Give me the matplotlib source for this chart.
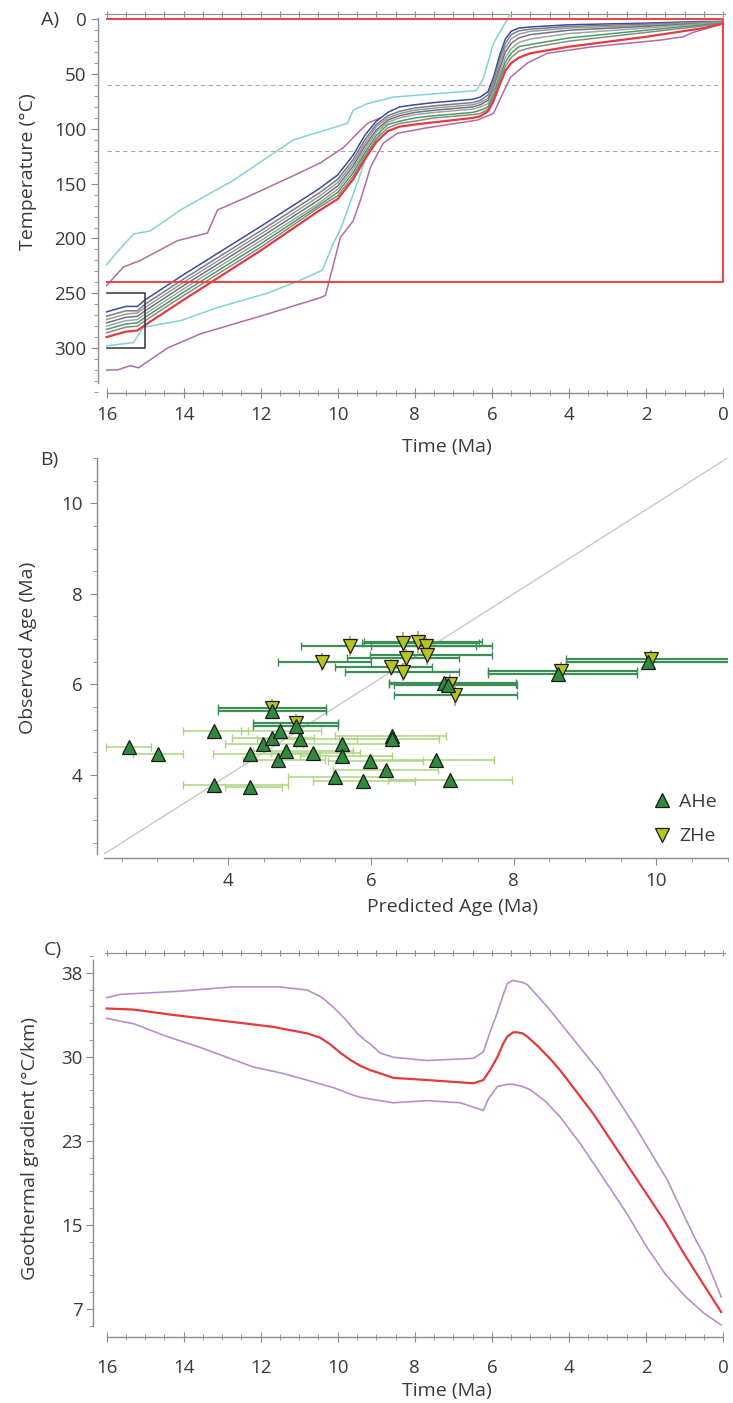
import matplotlib.pyplot as plt
import numpy as np
from matplotlib.ticker import MultipleLocator, FixedLocator
from matplotlib.lines import Line2D

plt.rcParams['font.family'] = ['Open Sans', 'DejaVu Sans']
plt.rcParams['font.size'] = 13.5

# ---------------- A) thermal histories ----------------
t_bundle = [16, 15.5, 15.2, 15, 14, 12, 10.5, 10, 9.6, 9.3, 9.0, 8.7, 8.4, 8.0, 7.5, 6.5, 6.3, 6.1, 5.95, 5.8, 5.65, 5.5, 5.3, 5.0, 4.0, 2.0, 0.5, 0]
T_blue = [267, 262, 262, 256, 233, 189, 155, 142, 124, 106, 93, 85, 80, 78, 76, 73, 71, 66, 52, 33, 18, 11, 8, 7, 5, 3.5, 2, 2]
T_gray1 = [271, 266, 266, 260, 237, 193, 159, 146, 128, 110, 96, 88, 84, 81, 79, 76, 74, 69, 56, 37, 22, 14, 10.5, 9, 6.5, 4.5, 2.5, 2]
T_gray2 = [274, 269, 268, 263, 240, 196, 162, 149, 131, 113, 98, 90, 86, 83, 81, 78, 76, 72, 59, 41, 26, 18, 13.5, 11, 8, 5.5, 3, 2.5]
T_gray3 = [277, 272, 271, 266, 243, 199, 165, 152, 134, 116, 101, 92, 88, 85, 83, 80, 78, 74, 62, 45, 30, 22, 17, 14, 10, 6.5, 3.5, 3]
T_gray4 = [280, 275, 274, 269, 246, 202, 168, 155, 137, 119, 103, 94, 90, 87, 85, 82, 80, 77, 65, 49, 35, 27, 21, 18, 13, 8, 4, 3]
T_green = [283, 278, 277, 272, 249, 205, 170, 158, 140, 122, 106, 96, 93, 90, 88, 85, 83, 80, 68, 53, 39, 31, 25, 23, 17, 10, 5, 3.5]
T_gray5 = [286, 281, 280, 275, 252, 208, 172, 161, 143, 125, 109, 99, 95, 93, 90, 87, 86, 82, 71, 56, 43, 35, 29, 26, 20, 12, 6, 4]
T_red = [290, 285, 284, 279, 256, 211, 175, 164, 146, 128, 112, 102, 98, 96, 94, 90, 88.5, 84, 74, 60, 47, 40, 35, 31, 25, 16, 8, 4]

cyan_up_t = [16, 15.64, 15.3, 14.86, 14.08, 12.71, 11.15, 9.75, 9.6, 9.23, 8.56, 6.4, 6.22, 5.96, 5.6, 5.4]
cyan_up_T = [224, 209, 196, 193, 174, 147, 110, 95, 83, 77, 71, 65, 54, 22, 0, -12]
mag_up_t = [16, 15.56, 15.12, 14.16, 13.38, 13.12, 12.34, 11.23, 10.45, 9.85, 9.49, 9.23, 8.9]
mag_up_T = [243, 226, 220, 202, 195, 174, 162, 144, 131, 117, 104, 95, 90]
cyan_lo_t = [16, 15.3, 15.04, 14.08, 13.12, 11.83, 10.97, 10.4, 10.11, 9.93, 9.41, 9.23, 8.9]
cyan_lo_T = [298, 295, 281, 275, 263, 250, 238, 229, 204, 192, 141, 122, 104]
mag_lo_t = [16, 15.72, 15.38, 15.17, 14.42, 13.56, 11.83, 10.45, 10.32, 9.93, 9.6, 9.41, 9.15, 8.82, 8.45, 7.68, 6.38, 5.96, 5.52, 5.08, 4.56, 3.37, 1.63, 1.04, 0.78, 0]
mag_lo_T = [320, 320, 316, 318, 300, 287, 269, 254, 252, 199, 184, 165, 135, 113, 104, 99, 92, 86, 53, 40, 31, 25, 19, 16, 12, 4]

constraint_t = [16, 0, 0, 16]       # red box outline (top, right, bottom)
constraint_T = [0, 0, 240, 240]
start_box_t = [16, 15]
start_box_T = [250, 300]
dashed_T = [60, 120]

# ---------------- B) observed vs predicted ----------------
ahe_pred = [2.60, 3.01, 3.80, 3.80, 4.30, 4.30, 4.49, 4.61, 4.72, 4.70, 4.81, 5.00, 5.19, 5.59, 5.59, 5.50, 5.89, 5.99, 6.29, 6.29, 6.21, 6.91, 7.10]
ahe_obs = [4.62, 4.46, 4.97, 3.78, 3.74, 4.46, 4.68, 4.81, 4.97, 4.33, 4.53, 4.79, 4.49, 4.68, 4.43, 3.96, 3.87, 4.31, 4.87, 4.80, 4.11, 4.33, 3.89]
ahe_lo = [2.28, 2.66, 3.36, 3.36, 3.95, 3.78, 3.95, 4.05, 4.18, 4.20, 4.35, 4.40, 4.60, 4.95, 5.00, 4.84, 5.19, 5.40, 5.50, 5.55, 5.47, 6.03, 6.24]
ahe_hi = [2.91, 3.36, 4.27, 4.83, 4.75, 5.29, 5.05, 5.20, 5.30, 5.35, 5.75, 5.80, 5.85, 6.30, 6.30, 6.28, 6.62, 6.73, 7.05, 6.95, 6.94, 7.73, 7.98]

ahe2_pred = [4.61, 4.94, 7.02, 7.08, 8.62, 9.88]
ahe2_obs = [5.41, 5.08, 6.04, 5.98, 6.24, 6.50]
ahe2_lo = [3.85, 4.35, 6.25, 6.32, 7.64, 8.73]
ahe2_hi = [5.37, 5.54, 8.03, 8.05, 9.73, 11.3]

zhe_pred = [5.71, 5.31, 6.45, 6.66, 6.77, 6.78, 6.49, 6.28, 6.45, 7.10, 7.17, 4.61, 4.94, 8.67, 9.93]
zhe_obs = [6.85, 6.49, 6.91, 6.94, 6.85, 6.65, 6.58, 6.38, 6.27, 6.02, 5.77, 5.48, 5.15, 6.29, 6.55]
zhe_lo = [5.02, 4.69, 5.87, 5.90, 6.00, 5.98, 5.66, 5.49, 5.64, 6.25, 6.32, 3.85, 4.35, 7.64, 8.73]
zhe_hi = [7.47, 6.00, 7.52, 7.55, 7.69, 7.70, 7.23, 6.85, 7.23, 8.03, 8.05, 5.37, 5.54, 9.73, 11.3]
zhe_obs_err = [0.22, 0.2, 0.25, 0.25, 0.2, 0.22, 0.2, 0.2, 0.2, 0.2, 0.25, 0.2, 0.2, 0.2, 0.2]

# ---------------- C) geothermal gradient ----------------
tc_red = [16, 15.3, 14.26, 12.71, 11.67, 10.79, 10.45, 10.2, 9.93, 9.65, 9.41, 9.15, 8.97, 8.56, 7.68, 6.48, 6.22, 6.05, 5.86, 5.7, 5.6, 5.45, 5.34, 5.2, 5.08, 4.8, 4.5, 4.23, 3.37, 2.23, 1.5, 1.0, 0.5, 0.05]
g_red = [34.7, 34.6, 34.1, 33.45, 33.0, 32.4, 32.0, 31.4, 30.6, 29.9, 29.4, 29.0, 28.8, 28.3, 28.1, 27.8, 28.1, 29.0, 30.2, 31.5, 32.1, 32.5, 32.5, 32.4, 32.1, 31.2, 30.1, 29.0, 25.0, 18.9, 15.0, 12.0, 9.2, 6.7]
tc_up = [16, 15.64, 14.08, 12.71, 11.54, 10.79, 10.45, 10.3, 10.11, 9.8, 9.49, 9.3, 9.15, 8.9, 8.56, 7.68, 6.48, 6.22, 6.05, 5.86, 5.7, 5.6, 5.45, 5.34, 5.2, 5.08, 4.8, 4.5, 4.23, 3.19, 2.33, 1.45, 1.0, 0.7, 0.5, 0.3, 0.05]
g_up = [35.7, 36.0, 36.3, 36.7, 36.7, 36.4, 35.8, 35.4, 34.8, 33.7, 32.4, 31.8, 31.4, 30.6, 30.2, 29.9, 30.1, 30.7, 32.5, 34.3, 36.0, 37.0, 37.3, 37.2, 37.1, 36.9, 35.8, 34.6, 33.4, 28.8, 24.1, 18.9, 15.5, 13.3, 12.0, 10.3, 8.1]
tc_lo = [16, 15.46, 15.3, 14.42, 13.56, 12.19, 11.41, 10.11, 9.6, 9.41, 8.56, 7.68, 6.82, 6.22, 6.1, 5.86, 5.6, 5.45, 5.2, 5.0, 4.6, 4.23, 3.7, 3.19, 2.5, 2.0, 1.5, 1.0, 0.5, 0.05]
g_lo = [33.8, 33.4, 33.3, 32.1, 31.1, 29.3, 28.7, 27.4, 26.7, 26.5, 26.0, 26.2, 26.0, 25.3, 26.3, 27.5, 27.7, 27.7, 27.5, 27.2, 26.1, 24.7, 22.2, 19.5, 15.8, 12.8, 10.2, 8.2, 6.6, 5.5]
gC_ticks = [7, 14.75, 22.5, 30.25, 38]
gC_labels = ['7', '15', '23', '30', '38']

SP = '#8c8c8c'
TXT = '#3a3a3a'
W, H = 733, 1403


def box(l, t, r, b):
    return [l / W, 1 - b / H, (r - l) / W, (b - t) / H]


def style(ax):
    for s in ax.spines.values():
        s.set_color(SP)
        s.set_linewidth(1)
    ax.tick_params(which='both', colors=SP, labelcolor=TXT, labelsize=13.5)
    ax.spines['right'].set_visible(False)
    ax.spines['top'].set_visible(False)


def top_ticks(ax):
    sec = ax.secondary_xaxis('top')
    sec.xaxis.set_major_locator(MultipleLocator(0.5))
    sec.tick_params(direction='inout', length=4, colors=SP, labeltop=False)
    sec.spines['top'].set_color(SP)


fig = plt.figure(figsize=(7.33, 14.03), dpi=100)

# ---- A ----
axA = fig.add_axes(box(104.6, 13.8, 725, 393))
style(axA)
envA = [(cyan_up_t, cyan_up_T, '#84d2d6'), (mag_up_t, mag_up_T, '#b46aa2'),
        (cyan_lo_t, cyan_lo_T, '#84d2d6'), (mag_lo_t, mag_lo_T, '#b46aa2')]
for tt, TT, c in envA:
    axA.plot(tt, TT, color=c, lw=1.1, zorder=2)
bundle = [(T_blue, '#3b4c9c'), (T_gray1, '#7c7c84'), (T_gray2, '#9a9a9a'), (T_gray3, '#6f7480'),
          (T_gray4, '#a3a3a3'), (T_green, '#4e9c62'), (T_gray5, '#8a8a8a'), (T_red, '#e23b40')]
for TT, c in bundle:
    axA.plot(t_bundle, TT, color=c, lw=1.6 if c == '#e23b40' else 1.1, zorder=3)
axA.plot(constraint_t, constraint_T, color='#e8474c', lw=1.5, zorder=4)
axA.plot([start_box_t[0], start_box_t[1], start_box_t[1], start_box_t[0]],
         [start_box_T[0], start_box_T[0], start_box_T[1], start_box_T[1]], color='#333333', lw=1.1, zorder=4)
for d in dashed_T:
    axA.plot([16, 0], [d, d], color='#a8a8a8', lw=0.8, dashes=(4, 3), zorder=1)
axA.set_xlim(16.05, -0.05)
axA.set_ylim(341, -5)
axA.spines['left'].set_position(('outward', 5))
axA.spines['left'].set_bounds(-1, 332)
axA.spines['bottom'].set_bounds(16, 0)
axA.xaxis.set_major_locator(MultipleLocator(2))
axA.xaxis.set_minor_locator(MultipleLocator(0.5))
axA.yaxis.set_major_locator(MultipleLocator(50))
axA.yaxis.set_minor_locator(MultipleLocator(10))
axA.tick_params(axis='x', which='major', direction='inout', length=7, pad=6)
axA.tick_params(axis='x', which='minor', direction='inout', length=4)
axA.tick_params(axis='y', which='major', length=5, pad=3)
axA.tick_params(axis='y', which='minor', length=3)
top_ticks(axA)

# ---- B ----
axB = fig.add_axes(box(103.7, 457.9, 727.6, 854.3))
style(axB)
lims = [2.25, 11]
axB.plot(lims, lims, color='#c8c8c8', lw=1, zorder=1)
ap, ao = np.array(ahe_pred), np.array(ahe_obs)
axB.errorbar(ap, ao, xerr=[ap - np.array(ahe_lo), np.array(ahe_hi) - ap], fmt='none',
             ecolor='#a9d67f', elinewidth=1.1, capsize=3, zorder=2)
ap2, ao2 = np.array(ahe2_pred), np.array(ahe2_obs)
axB.errorbar(ap2, ao2, xerr=[ap2 - np.array(ahe2_lo), np.array(ahe2_hi) - ap2], fmt='none',
             ecolor='#3d8f57', elinewidth=1.6, capsize=3, zorder=2)
zp, zo = np.array(zhe_pred), np.array(zhe_obs)
axB.errorbar(zp, zo, xerr=[zp - np.array(zhe_lo), np.array(zhe_hi) - zp], fmt='none',
             ecolor='#3d8f57', elinewidth=1.6, capsize=3, zorder=2)
axB.errorbar(zp, zo, yerr=zhe_obs_err, fmt='none', ecolor='#c0857a', elinewidth=1.1, zorder=2)
axB.plot(zp, zo, 'v', ms=10, mfc='#b6c41e', mec='#1a1a1a', mew=0.9, ls='none', zorder=3)
axB.plot(np.concatenate([ap, ap2]), np.concatenate([ao, ao2]), '^', ms=10, mfc='#2e8b3e',
         mec='#1a1a1a', mew=0.9, ls='none', zorder=4)
axB.set_xlim(*lims)
axB.set_ylim(*lims)
axB.spines['left'].set_position(('outward', 5))
axB.spines['bottom'].set_position(('outward', 3))
for a in (axB.xaxis, axB.yaxis):
    a.set_major_locator(MultipleLocator(2))
    a.set_minor_locator(MultipleLocator(0.5))
axB.tick_params(which='major', length=5, pad=5)
axB.tick_params(which='minor', length=3)
hB = [Line2D([], [], marker='^', ls='none', ms=10, mfc='#2e8b3e', mec='#1a1a1a', mew=0.9),
      Line2D([], [], marker='v', ls='none', ms=10, mfc='#b6c41e', mec='#1a1a1a', mew=0.9)]
axB.legend(hB, ['AHe', 'ZHe'], loc='lower right', bbox_to_anchor=(1.005, -0.012), frameon=False,
           handlelength=1.0, handletextpad=0.4, labelspacing=0.85, borderpad=0.2,
           fontsize=14, labelcolor=TXT)

# ---- C ----
axC = fig.add_axes(box(104.6, 953.2, 725, 1326.1))
style(axC)
axC.plot(tc_up, g_up, color='#b98fc9', lw=1.2)
axC.plot(tc_lo, g_lo, color='#b98fc9', lw=1.2)
axC.plot(tc_red, g_red, color='#e33a3e', lw=1.6)
axC.set_xlim(16.05, -0.05)
axC.set_ylim(5.4, 39.8)
axC.spines['left'].set_position(('outward', 8))
axC.spines['left'].set_bounds(5.4, 39.2)
axC.spines['bottom'].set_position(('outward', 8))
axC.spines['bottom'].set_bounds(16, 0)
axC.xaxis.set_major_locator(MultipleLocator(2))
axC.xaxis.set_minor_locator(MultipleLocator(0.5))
axC.yaxis.set_major_locator(FixedLocator(gC_ticks))
axC.yaxis.set_minor_locator(MultipleLocator(1.55, offset=0.8))
axC.set_yticklabels(gC_labels)
axC.tick_params(axis='x', which='major', direction='inout', length=7, pad=12)
axC.tick_params(axis='x', which='minor', direction='inout', length=4)
axC.tick_params(axis='y', which='major', length=5, pad=3)
axC.tick_params(axis='y', which='minor', length=3)
top_ticks(axC)

# ---- labels ----
def ftext(x, y, s, **kw):
    fig.text(x / W, 1 - y / H, s, ha='center', va='center', color=TXT, fontsize=14, **kw)


ftext(50, 20, 'A)')
ftext(28, 172, 'Temperature (°C)', rotation=90)
ftext(447, 447, 'Time (Ma)')
ftext(49, 460, 'B)')
ftext(28, 648, 'Observed Age (Ma)', rotation=90)
ftext(453, 907, 'Predicted Age (Ma)')
ftext(53, 950, 'C)')
ftext(30, 1148, 'Geothermal gradient (°C/km)', rotation=90)
ftext(447, 1391, 'Time (Ma)')

fig.savefig('out.png', dpi=100)
